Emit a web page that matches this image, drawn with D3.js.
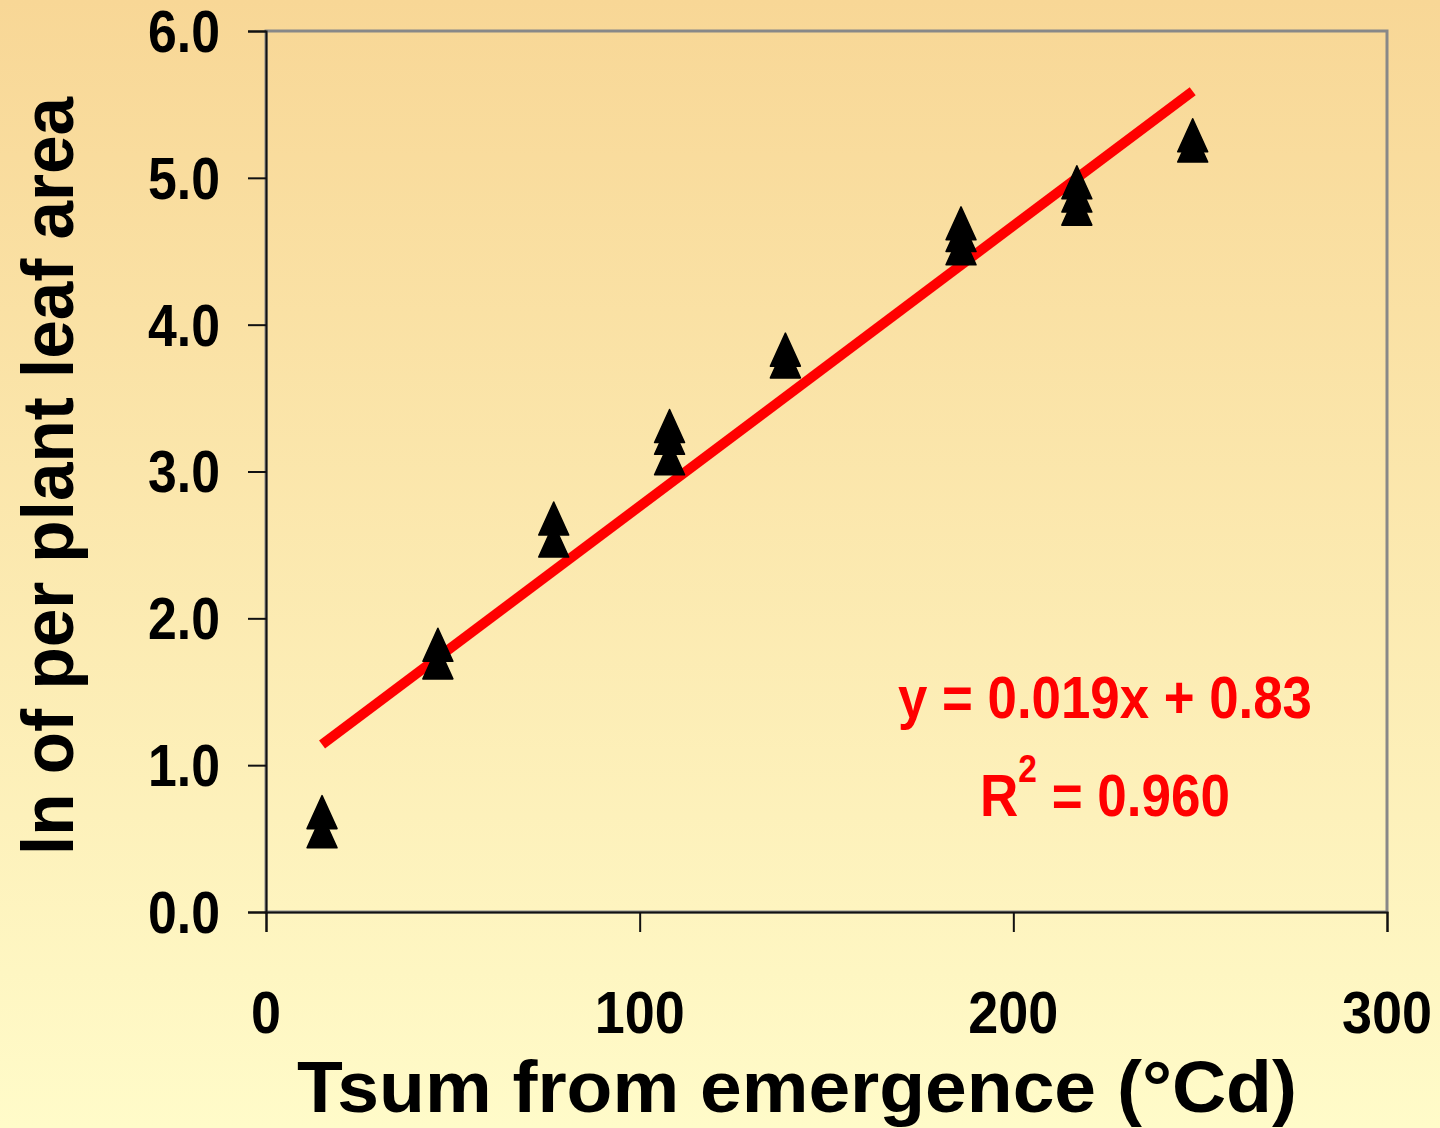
<!DOCTYPE html>
<html><head><meta charset="utf-8">
<script src="https://cdn.jsdelivr.net/npm/d3@7"></script>
<style>html,body{margin:0;padding:0;overflow:hidden;}svg{display:block;}</style>
</head><body>
<svg id="c" width="1440" height="1128"></svg>
<script>
// ---- data ----
const tsum = [15, 46, 77, 108, 139, 186, 217, 248];
const lnArea = [
  [0.68, 0.55],
  [1.82, 1.70],
  [2.68, 2.53],
  [3.31, 3.23, 3.09],
  [3.83, 3.75],
  [4.69, 4.61, 4.52],
  [4.97, 4.88, 4.79],
  [5.29, 5.22]
];
const trendX = [15, 248];
const trendY = [1.14, 5.59];
const xTicks = [0, 100, 200, 300];
const yTicks = [0, 1, 2, 3, 4, 5, 6];
const eqText = "y = 0.019x + 0.83";
const r2Value = "0.960";
const xTitle = "Tsum from emergence (°Cd)";
const yTitle = "ln of per plant leaf area";

const svg = d3.select("#c");
const W = 1440, H = 1128;
const defs = svg.append("defs");
const grad = defs.append("linearGradient").attr("id","bg").attr("x1",0).attr("y1",0).attr("x2",0).attr("y2",1);
grad.append("stop").attr("offset","0%").attr("stop-color","#F8D796");
grad.append("stop").attr("offset","100%").attr("stop-color","#FFFBC9");
svg.append("rect").attr("width",W).attr("height",H).attr("fill","url(#bg)");

const L = 266, R = 1387, T = 31, B = 912;
const x = d3.scaleLinear().domain([0,300]).range([L,R]);
const y = d3.scaleLinear().domain([0,6]).range([B,T]);
const FONT = "'Liberation Sans', Arial, sans-serif";

function fitWidth(sel, target) {
  const node = sel.node();
  const w = node.getComputedTextLength();
  const s = target / w;
  const xx = +sel.attr("x"), yy = +sel.attr("y");
  sel.attr("transform", `translate(${xx},${yy}) scale(${s},1) translate(${-xx},${-yy})`);
}

// frame
svg.append("rect").attr("x",L).attr("y",T).attr("width",R-L).attr("height",B-T)
  .attr("fill","none").attr("stroke","#888").attr("stroke-width",3);

// axes
const yAxis = d3.axisLeft(y).tickValues(yTicks).tickSize(18).tickFormat("");
const gy = svg.append("g").attr("transform",`translate(${L},0)`).call(yAxis);
gy.select(".domain").attr("stroke","#111").attr("stroke-width",2);
gy.selectAll(".tick line").attr("stroke","#111").attr("stroke-width",2);
const xAxis = d3.axisBottom(x).tickValues(xTicks).tickSize(20).tickFormat("");
const gx = svg.append("g").attr("transform",`translate(0,${B})`).call(xAxis);
gx.select(".domain").attr("stroke","#111").attr("stroke-width",2);
gx.selectAll(".tick line").attr("stroke","#111").attr("stroke-width",2);

// tick labels
yTicks.forEach(v => {
  const t = svg.append("text").attr("x",220).attr("y",y(v)+21)
    .attr("text-anchor","end").attr("font-family",FONT).attr("font-weight","bold")
    .attr("font-size",60).attr("fill","#000").text(d3.format(".1f")(v));
  fitWidth(t, 72);
});
xTicks.forEach(v => {
  const t = svg.append("text").attr("x",x(v)).attr("y",1033)
    .attr("text-anchor","middle").attr("font-family",FONT).attr("font-weight","bold")
    .attr("font-size",60).attr("fill","#000").text(String(v));
  fitWidth(t, String(v).length * 30);
});

// axis titles
const xt = svg.append("text").attr("x",797).attr("y",1112).attr("text-anchor","middle")
  .attr("font-family",FONT).attr("font-weight","bold").attr("font-size",72).attr("fill","#000").text(xTitle);
fitWidth(xt, 1000);
const ytg = svg.append("g").attr("transform","translate(73,476) rotate(-90)");
const yt = ytg.append("text").attr("x",0).attr("y",0).attr("text-anchor","middle")
  .attr("font-family",FONT).attr("font-weight","bold").attr("font-size",72).attr("fill","#000").text(yTitle);
fitWidth(yt, 758);

// trend line
svg.append("line").attr("x1",x(trendX[0])).attr("y1",y(trendY[0]))
  .attr("x2",x(trendX[1])).attr("y2",y(trendY[1]))
  .attr("stroke","#FF0000").attr("stroke-width",10);

// markers
const tri = "M0,-16.5 L15,16.5 L-15,16.5 Z";
const pts = [];
tsum.forEach((t,i) => lnArea[i].forEach(v => pts.push([t,v])));
svg.append("g").selectAll("path").data(pts).join("path")
  .attr("d",tri).attr("transform",d=>`translate(${x(d[0])},${y(d[1])})`)
  .attr("fill","#000").attr("stroke","#000").attr("stroke-width",1.5).attr("stroke-linejoin","round");

// equation
const eq = svg.append("text").attr("x",1105).attr("y",718).attr("text-anchor","middle")
  .attr("font-family",FONT).attr("font-weight","bold").attr("font-size",60).attr("fill","#FF0000").text(eqText);
fitWidth(eq, 414);
const r2 = svg.append("text").attr("x",1105).attr("y",816).attr("text-anchor","middle")
  .attr("font-family",FONT).attr("font-weight","bold").attr("font-size",60).attr("fill","#FF0000");
r2.append("tspan").text("R");
r2.append("tspan").attr("font-size",38).attr("dy",-34).text("2");
r2.append("tspan").attr("dy",34).text(" = " + r2Value);
fitWidth(r2, 250);
</script>
</body></html>
